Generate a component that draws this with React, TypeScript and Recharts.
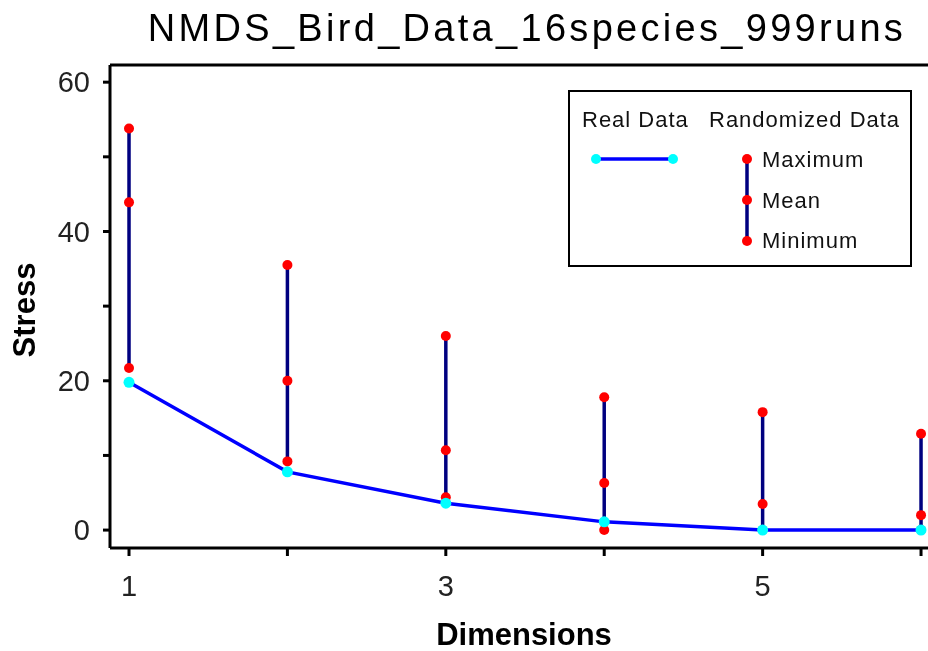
import { ComposedChart, Line, Scatter, ErrorBar, XAxis, YAxis, ReferenceLine } from "recharts";

const dimensions = [1, 2, 3, 4, 5, 6];
const realStress = [19.8, 7.8, 3.6, 1.1, 0.0, 0.0];
const randomMax = [53.8, 35.5, 26.0, 17.8, 15.8, 12.9];
const randomMean = [43.9, 20.0, 10.7, 6.3, 3.5, 2.0];
const randomMin = [21.7, 9.2, 4.4, 0.0, 0.0, 0.0];

const xTicks = [1, 2, 3, 4, 5, 6];
const xTickLabels = ["1", "", "3", "", "5", ""];
const yTicks = [0, 10, 20, 30, 40, 50, 60];
const yTickLabels = ["0", "", "20", "", "40", "", "60"];

const data = dimensions.map((dim, i) => ({
  dim,
  real: realStress[i],
  max: randomMax[i],
  mean: randomMean[i],
  min: randomMin[i],
  spread: [randomMean[i] - randomMin[i], randomMax[i] - randomMean[i]]
}));

const FONT = "'Liberation Sans', Arial, sans-serif";
const Y_DOMAIN: [number, number] = [-2.4, 62.3];

const redDot = (p: any) => <circle cx={p.cx} cy={p.cy} r={5} fill="#ff0000" />;
const cyanDot = (p: any) => <circle key={`c${p.index}`} cx={p.cx} cy={p.cy} r={5.5} fill="#00ffff" />;

function LegendBox() {
  return (
    <div
      style={{
        position: "absolute",
        left: 568,
        top: 90,
        width: 344,
        height: 177,
        border: "2px solid #000",
        boxSizing: "border-box",
        background: "#fff"
      }}
    >
      <svg width={340} height={173} style={{ position: "absolute", left: 0, top: 0 }}>
        <g fontFamily={FONT} fontSize={22} fill="#111" letterSpacing={1}>
          <text x={12} y={35}>Real Data</text>
          <text x={139} y={35}>Randomized Data</text>
          <text x={192} y={75}>Maximum</text>
          <text x={192} y={116}>Mean</text>
          <text x={192} y={156}>Minimum</text>
        </g>
        <line x1={26} y1={67} x2={103} y2={67} stroke="#0000ff" strokeWidth={3.5} />
        <circle cx={26} cy={67} r={5} fill="#00ffff" />
        <circle cx={103} cy={67} r={5} fill="#00ffff" />
        <line x1={177} y1={67} x2={177} y2={149} stroke="#000080" strokeWidth={3.5} />
        <circle cx={177} cy={67} r={5} fill="#ff0000" />
        <circle cx={177} cy={108} r={5} fill="#ff0000" />
        <circle cx={177} cy={149} r={5} fill="#ff0000" />
      </svg>
    </div>
  );
}

export default function App() {
  return (
    <div style={{ position: "fixed", left: 0, top: 0, width: 928, height: 651, background: "#fff" }}>
      <div
        style={{
          position: "absolute",
          left: 0,
          top: 6,
          width: 1054,
          textAlign: "center",
          fontFamily: FONT,
          fontSize: 38,
          lineHeight: "44px",
          letterSpacing: 3.3,
          color: "#000",
          whiteSpace: "nowrap"
        }}
      >
        NMDS_Bird_Data_16species_999runs
      </div>
      <ComposedChart
        width={928}
        height={651}
        data={data}
        margin={{ top: 65, right: 0, bottom: 0, left: 0 }}
        style={{ position: "absolute", left: 0, top: 0 }}
      >
        <XAxis
          dataKey="dim"
          type="number"
          domain={[0.88, 6.044]}
          allowDataOverflow
          ticks={xTicks}
          interval={0}
          tickFormatter={(v: number) => xTickLabels[xTicks.indexOf(v)] ?? ""}
          height={103}
          tickSize={8}
          tickMargin={19}
          axisLine={{ stroke: "#000", strokeWidth: 3 }}
          tickLine={{ stroke: "#000", strokeWidth: 3 }}
          tick={{ fill: "#222", fontSize: 29, fontFamily: FONT }}
          label={() => (
            <text x={524} y={645} textAnchor="middle" fontFamily={FONT} fontSize={31} fontWeight="bold" fill="#000">
              Dimensions
            </text>
          )}
        />
        <YAxis
          type="number"
          domain={Y_DOMAIN}
          allowDataOverflow
          ticks={yTicks}
          interval={0}
          tickFormatter={(v: number) => yTickLabels[yTicks.indexOf(v)] ?? ""}
          width={110}
          tickSize={7}
          tickMargin={13}
          axisLine={{ stroke: "#000", strokeWidth: 3 }}
          tickLine={{ stroke: "#000", strokeWidth: 3 }}
          tick={{ fill: "#222", fontSize: 29, fontFamily: FONT }}
          label={() => (
            <text
              x={35}
              y={310}
              textAnchor="middle"
              transform="rotate(-90 35 310)"
              fontFamily={FONT}
              fontSize={31}
              fontWeight="bold"
              fill="#000"
            >
              Stress
            </text>
          )}
        />
        <ReferenceLine y={Y_DOMAIN[1]} stroke="#000" strokeWidth={3} />
        <Scatter dataKey="mean" isAnimationActive={false} shape={(p: any) => <circle cx={p.cx} cy={p.cy} r={0} />}>
          <ErrorBar dataKey="spread" direction="y" width={0} stroke="#000080" strokeWidth={3.5} isAnimationActive={false} />
        </Scatter>
        <Scatter dataKey="max" isAnimationActive={false} shape={redDot} />
        <Scatter dataKey="mean" isAnimationActive={false} shape={redDot} />
        <Scatter dataKey="min" isAnimationActive={false} shape={redDot} />
        <Line
          dataKey="real"
          type="linear"
          stroke="#0000ff"
          strokeWidth={3.5}
          dot={cyanDot}
          activeDot={false}
          isAnimationActive={false}
        />
      </ComposedChart>
      <LegendBox />
    </div>
  );
}
